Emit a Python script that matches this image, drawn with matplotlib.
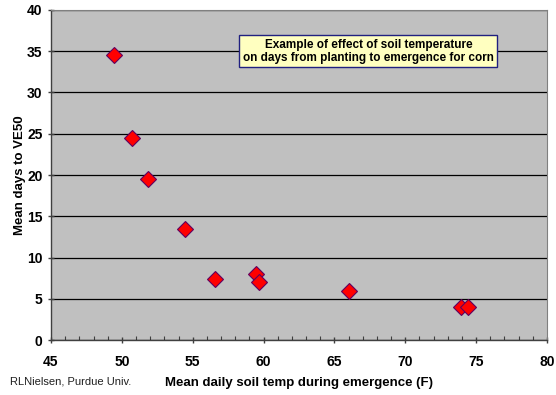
import matplotlib
matplotlib.use("Agg")
import matplotlib.pyplot as plt
from matplotlib.ticker import MultipleLocator

plt.rcParams['font.family'] = ['Liberation Sans', 'DejaVu Sans']

soil_temp_f = [49.45, 50.75, 51.85, 54.45, 56.6, 59.5, 59.7, 66.0, 73.9, 74.4]
days_to_ve50 = [34.5, 24.5, 19.5, 13.5, 7.4, 8.0, 7.0, 6.0, 4.0, 4.0]

x_ticks = [45, 50, 55, 60, 65, 70, 75, 80]
y_ticks = [0, 5, 10, 15, 20, 25, 30, 35, 40]

fig = plt.figure(figsize=(5.56, 3.95), dpi=100)
ax = fig.add_axes([0.0917, 0.1392, 0.8921, 0.8355])
ax.set_facecolor('#C0C0C0')

ax.set_xlim(45, 80)
ax.set_ylim(0, 40)
ax.set_xticks(x_ticks)
ax.set_yticks(y_ticks)
ax.xaxis.set_minor_locator(MultipleLocator(1))
ax.yaxis.grid(True, color='black', linewidth=0.9)
ax.set_axisbelow(True)

ax.plot(soil_temp_f, days_to_ve50, linestyle='none', marker='D', markersize=8.5,
        markerfacecolor='#FF0000', markeredgecolor='#600060', markeredgewidth=0.8, zorder=3)

for s in ['top', 'right']:
    ax.spines[s].set_color('#808080')
    ax.spines[s].set_linewidth(0.8)
for s in ['left', 'bottom']:
    ax.spines[s].set_color('#404040')
    ax.spines[s].set_linewidth(1.0)

ax.tick_params(axis='both', which='major', direction='inout', length=5, width=1,
               color='#404040', labelsize=10)
ax.tick_params(axis='x', which='minor', direction='in', length=3, width=0.8, color='#404040')
ax.tick_params(axis='x', which='major', pad=8)
for lab in ax.get_xticklabels() + ax.get_yticklabels():
    lab.set_fontweight('bold')

ax.set_xlabel('Mean daily soil temp during emergence (F)', fontsize=9.5, fontweight='bold', labelpad=6)
ax.set_ylabel('Mean days to VE50', fontsize=9.5, fontweight='bold', labelpad=1)

ax.text(67.4, 35.0, 'Example of effect of soil temperature\non days from planting to emergence for corn',
        ha='center', va='center', fontsize=8.5, fontweight='bold', linespacing=1.15,
        bbox=dict(boxstyle='square,pad=0.3', facecolor='#FFFFC0', edgecolor='#202080', linewidth=1.0),
        zorder=4)

fig.text(0.018, 0.033, 'RLNielsen, Purdue Univ.', fontsize=8, ha='left', va='center', color='#202020')

fig.savefig('out.png', dpi=100)
